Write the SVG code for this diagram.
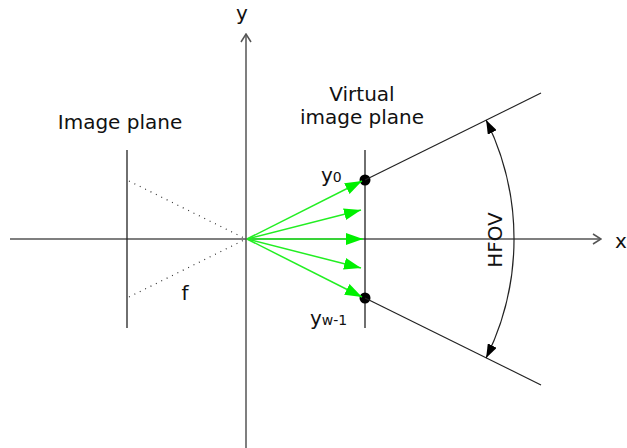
<svg xmlns="http://www.w3.org/2000/svg" width="627" height="448" viewBox="0 0 627 448">
<style>
text{font-family:"DejaVu Sans",Verdana,sans-serif;font-size:20px;fill:#111}
.axis{stroke:#555;stroke-width:1.5;fill:none}
.plane{stroke:#222;stroke-width:1.3;fill:none}
.ray{stroke:#222;stroke-width:1.2;fill:none}
.dot{stroke:#333;stroke-width:1.2;stroke-dasharray:1 5;fill:none}
.g{stroke:#22ee22;stroke-width:1.5;fill:none;marker-end:url(#ga)}
</style>
<defs>
<marker id="ga" viewBox="0 0 17 12" refX="17" refY="6" markerWidth="17" markerHeight="12" markerUnits="userSpaceOnUse" orient="auto"><path d="M0,0 L17,6 L0,12 Z" fill="#00f000"/></marker>
<marker id="ba" viewBox="0 0 14 10" refX="14" refY="5" markerWidth="14" markerHeight="10" markerUnits="userSpaceOnUse" orient="auto-start-reverse"><path d="M0,0 L14,5 L0,10 Z" fill="#000"/></marker>
<marker id="oa" viewBox="0 0 10 12" refX="9" refY="6" markerWidth="10" markerHeight="12" markerUnits="userSpaceOnUse" orient="auto"><path d="M1,1 L9,6 L1,11" fill="none" stroke="#555" stroke-width="1.5"/></marker>
</defs>
<g id="axes">
<line class="axis" x1="10" y1="239" x2="601" y2="239" marker-end="url(#oa)"/>
<line class="axis" x1="246" y1="448" x2="246" y2="34" marker-end="url(#oa)"/>
<text x="242" y="20" text-anchor="middle">y</text>
<text x="621" y="248" text-anchor="middle">x</text>
</g>
<g id="image-plane">
<line class="plane" x1="127" y1="150" x2="127" y2="328"/>
<text x="120" y="129" text-anchor="middle">Image plane</text>
</g>
<g id="virtual-plane">
<line class="plane" x1="365" y1="150" x2="365" y2="328"/>
<text x="362" y="101" text-anchor="middle">Virtual</text>
<text x="362" y="124" text-anchor="middle">image plane</text>
<circle cx="365" cy="180" r="5.5" fill="#000"/>
<circle cx="365" cy="298" r="5.5" fill="#000"/>
<text x="321" y="182">y<tspan font-size="14">0</tspan></text>
<text x="310" y="325">y<tspan font-size="14">w-1</tspan></text>
</g>
<g id="connectors">
<line class="dot" x1="129" y1="181" x2="244" y2="238"/>
<line class="dot" x1="129" y1="297" x2="244" y2="240"/>
<text x="185" y="300" text-anchor="middle">f</text>
<line class="ray" x1="365" y1="180" x2="541" y2="93"/>
<line class="ray" x1="365" y1="298" x2="541" y2="385"/>
<line class="g" x1="247" y1="239" x2="362" y2="181"/>
<line class="g" x1="247" y1="239" x2="361" y2="210"/>
<line class="g" x1="247" y1="239" x2="363" y2="239"/>
<line class="g" x1="247" y1="239" x2="361" y2="268"/>
<line class="g" x1="247" y1="239" x2="362" y2="297"/>
</g>
<g id="hfov">
<path d="M486.1,119.9 A268,268 0 0 1 486.1,358.1" fill="none" stroke="#222" stroke-width="1.2" marker-start="url(#ba)" marker-end="url(#ba)"/>
<text transform="translate(502,240) rotate(-90)" text-anchor="middle">HFOV</text>
</g>
</svg>
